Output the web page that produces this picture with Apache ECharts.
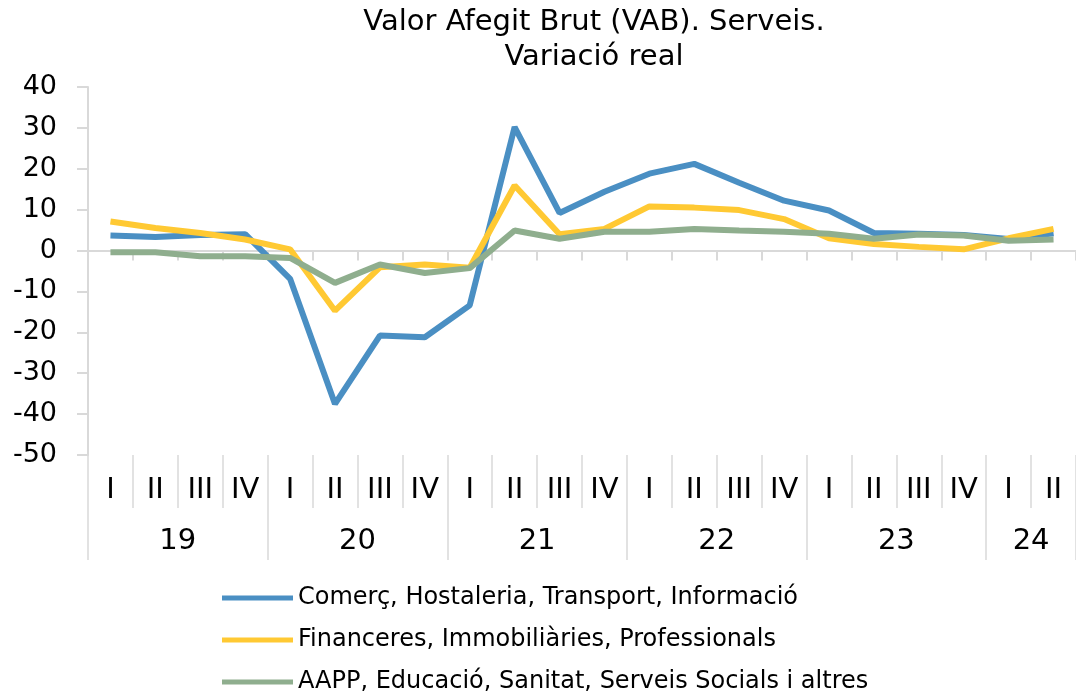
<!DOCTYPE html>
<html lang="ca">
<head>
<meta charset="UTF-8">
<title>VAB Serveis</title>
<script src="https://cdn.jsdelivr.net/npm/echarts@6/dist/echarts.min.js"></script>
<style>
  html, body { margin: 0; padding: 0; background: #fff; }
  #chart { width: 1076px; height: 699px; }
</style>
</head>
<body>
<div id="chart"></div>
<script>
// trimestres 2019 I - 2024 II
var quarters = ['I','II','III','IV','I','II','III','IV','I','II','III','IV',
                'I','II','III','IV','I','II','III','IV','I','II'];
var years = ['19', '20', '21', '22', '23', '24'];
var quartersPerYear = [4, 4, 4, 4, 4, 2];

var comerc = [3.7, 3.3, 3.8, 4.0, -6.9, -37.5, -20.8, -21.2, -13.4, 30.2, 9.2,
              14.4, 18.8, 21.2, 16.6, 12.2, 9.8, 4.3, 4.1, 3.8, 2.8, 4.2];
var financeres = [7.1, 5.5, 4.3, 2.7, 0.3, -14.7, -4.1, -3.4, -4.2, 15.9, 4.0,
                  5.3, 10.8, 10.5, 9.9, 7.7, 3.0, 1.6, 0.9, 0.3, 3.0, 5.3];
var aapp = [-0.4, -0.4, -1.4, -1.4, -1.8, -7.9, -3.4, -5.5, -4.3, 4.9, 2.9,
            4.6, 4.6, 5.3, 4.9, 4.6, 4.1, 2.9, 3.9, 3.7, 2.4, 2.7];

var seriesNames = ['Comerç, Hostaleria, Transport, Informació',
                   'Financeres, Immobiliàries, Professionals',
                   'AAPP, Educació, Sanitat, Serveis Socials i altres'];

// limits i centres dels anys sobre l'eix de trimestres
var yearBounds = [0], yearCenters = [];
quartersPerYear.forEach(function (n, i) {
    var start = yearBounds[i];
    yearCenters.push(start + n / 2);
    yearBounds.push(start + n);
});

var font = 'DejaVu Sans, sans-serif';
var gridColor = '#d9d9d9';

var myChart = echarts.init(document.getElementById('chart'));
var option = {
    animation: false,
    backgroundColor: '#fff',
    title: {
        text: 'Valor Afegit Brut (VAB). Serveis.\nVariació real',
        left: 589,
        top: 0,
        textAlign: 'center',
        textStyle: { fontFamily: font, fontSize: 29, fontWeight: 'normal', color: '#000', lineHeight: 35 }
    },
    legend: {
        orient: 'vertical',
        left: 222,
        top: 584,
        padding: 0,
        icon: 'rect',
        itemWidth: 71,
        itemHeight: 5,
        itemGap: 14,
        textStyle: { fontFamily: font, fontSize: 24, color: '#000', lineHeight: 28 },
        data: seriesNames
    },
    grid: { left: 88, top: 87, width: 995, height: 368 },
    xAxis: [
        {   // línia del zero amb marques
            type: 'category',
            data: quarters,
            boundaryGap: true,
            axisLine: { onZero: true, lineStyle: { color: gridColor, width: 2 } },
            axisTick: { show: true, interval: 0, length: 10, lineStyle: { color: gridColor, width: 2 } },
            axisLabel: { show: false },
            splitLine: { show: false }
        },
        {   // etiquetes de trimestre
            type: 'category',
            data: quarters,
            position: 'bottom',
            boundaryGap: true,
            axisLine: { show: false, onZero: false },
            axisTick: { show: true, interval: 0, length: 53, lineStyle: { color: gridColor, width: 1.5 } },
            axisLabel: { interval: 0, margin: 21, fontFamily: font, fontSize: 29, color: '#000' },
            splitLine: { show: false }
        },
        {   // etiquetes d'any
            type: 'value',
            min: 0,
            max: quarters.length,
            position: 'bottom',
            axisLine: { show: false, onZero: false },
            axisTick: { show: true, customValues: yearBounds, length: 105, lineStyle: { color: gridColor, width: 1.5 } },
            axisLabel: {
                customValues: yearCenters,
                margin: 72,
                fontFamily: font, fontSize: 29, color: '#000',
                formatter: function (v) { return years[yearCenters.indexOf(v)]; }
            },
            splitLine: { show: false }
        }
    ],
    yAxis: {
        type: 'value',
        min: -50,
        max: 40,
        interval: 10,
        axisLine: { show: true, lineStyle: { color: gridColor, width: 2 } },
        axisTick: { show: true, length: 11, lineStyle: { color: gridColor, width: 2 } },
        axisLabel: { margin: 31, fontFamily: font, fontSize: 27, color: '#000' },
        splitLine: { show: false }
    },
    series: [
        { name: seriesNames[0], type: 'line', data: comerc, symbol: 'none',
          lineStyle: { width: 6, color: '#4a8fc3' }, itemStyle: { color: '#4a8fc3' } },
        { name: seriesNames[1], type: 'line', data: financeres, symbol: 'none',
          lineStyle: { width: 6, color: '#ffc933' }, itemStyle: { color: '#ffc933' } },
        { name: seriesNames[2], type: 'line', data: aapp, symbol: 'none',
          lineStyle: { width: 6, color: '#8fae8e' }, itemStyle: { color: '#8fae8e' } }
    ]
};
myChart.setOption(option, true);
</script>
</body>
</html>
